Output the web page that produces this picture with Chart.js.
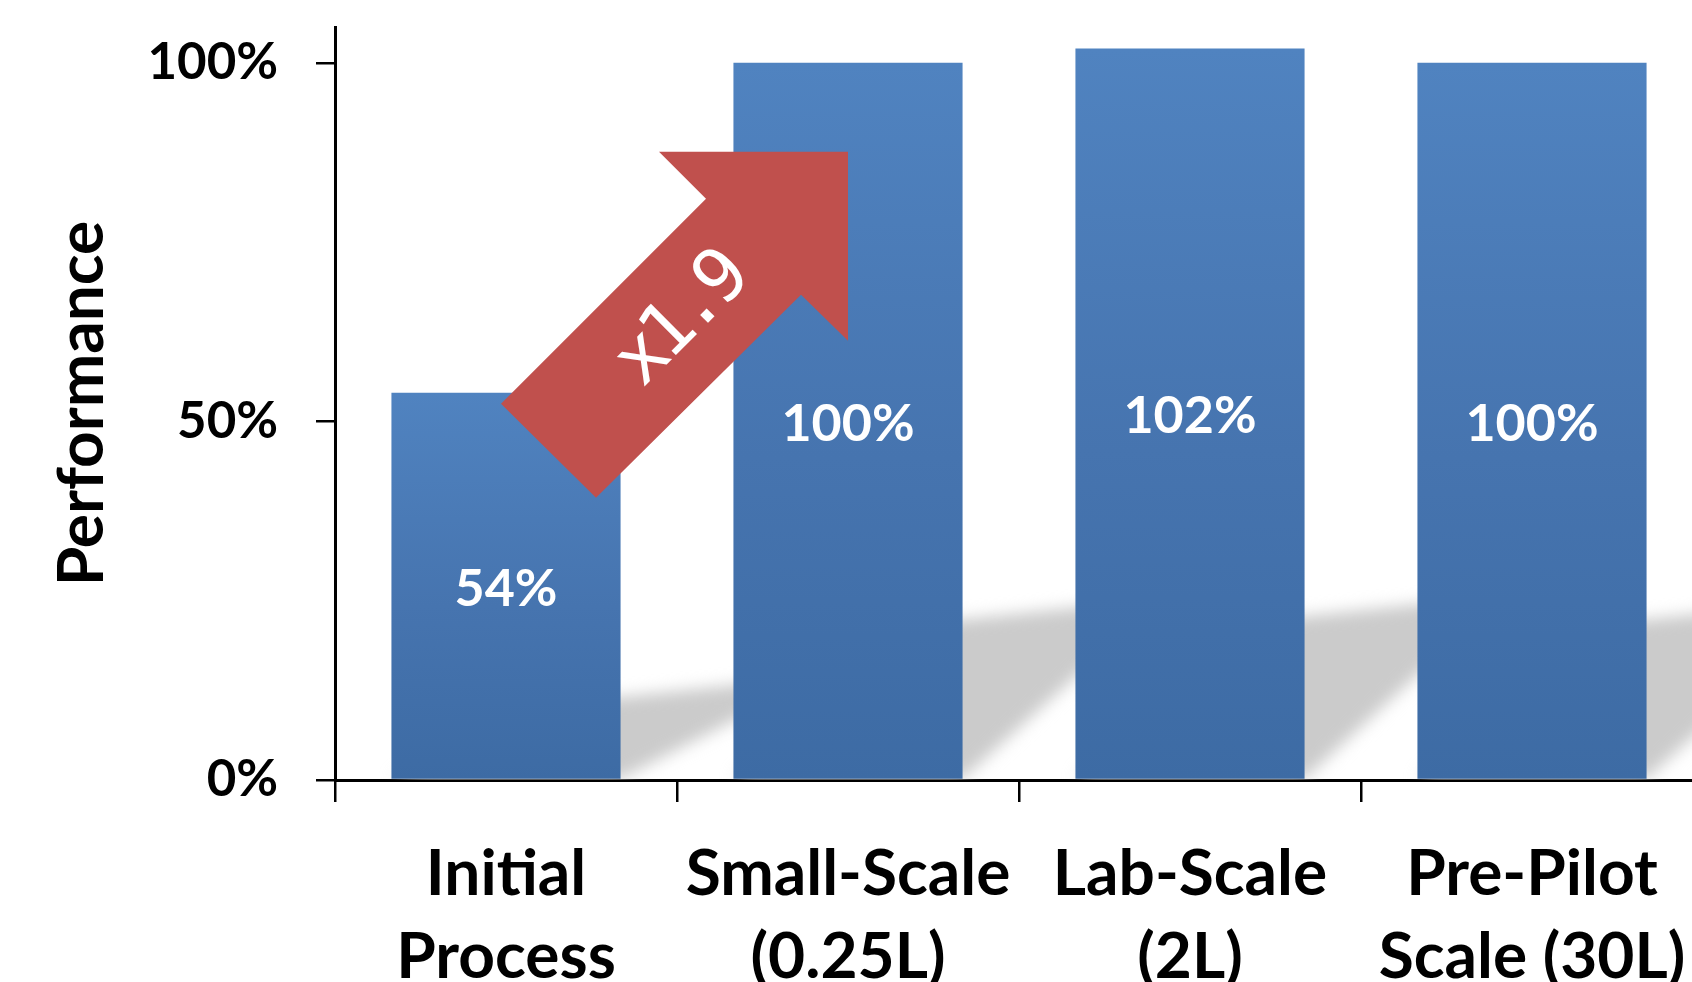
<!DOCTYPE html>
<html>
<head>
<meta charset="utf-8">
<script src="https://cdn.jsdelivr.net/npm/chart.js@4.4.1/dist/chart.umd.min.js"></script>
<style>
  html, body { margin: 0; padding: 0; background: #ffffff; overflow: hidden; width: 1692px; height: 982px; }
  #wrap { position: absolute; left: 0; top: 0; width: 1712px; height: 982px; }
  canvas { display: block; }
</style>
</head>
<body>
<div id="wrap"><canvas id="c" width="1712" height="982"></canvas></div>
<script>
// ---- data ----
const categories = [["Initial", "Process"], ["Small-Scale", "(0.25L)"], ["Lab-Scale", "(2L)"], ["Pre-Pilot", "Scale (30L)"]];
const performance = [54, 100, 102, 100];
const valueLabels = ["54%", "100%", "102%", "100%"];
const yTickValues = [0, 50, 100];
const yAxisMax = 105;
const yAxisTitle = "Performance";
const arrowText = "x1.9";
const arrowTip = { index: 1, value: 87.6 };

const MAIN_FONT = "Lato, 'Open Sans', sans-serif";

// ---- plugins ----
const shadowPlugin = {
  id: 'barShadows',
  beforeDatasetsDraw(chart) {
    const ctx = chart.ctx, area = chart.chartArea;
    const meta = chart.getDatasetMeta(0);
    const catW = chart.scales.x.width / categories.length;
    const s = catW / 342;
    ctx.save();
    ctx.beginPath();
    ctx.rect(area.left, area.top, area.right - area.left + 400, area.bottom - area.top);
    ctx.clip();
    ctx.filter = 'blur(8px)';
    ctx.fillStyle = '#cbcbcb';
    meta.data.forEach(el => {
      const L = el.x - el.width / 2, R = el.x + el.width / 2;
      const base = el.base, h = base - el.y;
      const sh = 0.235 * h;
      const D = 200 * s;
      const tilt = 12 * s;
      ctx.beginPath();
      ctx.moveTo(L, base);
      ctx.lineTo(R, base);
      ctx.lineTo(R + D, base - sh - tilt);
      ctx.lineTo(L + D, base - sh + tilt);
      ctx.closePath();
      ctx.fill();
    });
    ctx.restore();
  }
};

const arrowPlugin = {
  id: 'growthArrow',
  afterDatasetsDraw(chart) {
    const ctx = chart.ctx;
    const xs = chart.scales.x, ys = chart.scales.y;
    const s = (xs.width / categories.length) / 342;
    const tx = xs.getPixelForValue(arrowTip.index);
    const ty = ys.getPixelForValue(arrowTip.value);
    const pts = [[0, 0], [-189, 0], [-142, 47], [-347, 252], [-252, 346], [-47, 143], [0, 189]];
    ctx.save();
    ctx.fillStyle = '#C0504D';
    ctx.beginPath();
    pts.forEach((p, i) => {
      const px = tx + p[0] * s, py = ty + p[1] * s;
      if (i === 0) ctx.moveTo(px, py); else ctx.lineTo(px, py);
    });
    ctx.closePath();
    ctx.fill();
    ctx.translate(tx - 166 * s, ty + 170 * s);
    ctx.rotate(-Math.PI / 4);
    ctx.fillStyle = '#ffffff';
    ctx.font = (74 * s) + "px 'DejaVu Sans Mono', monospace";
    try { ctx.letterSpacing = (-7 * s) + 'px'; } catch (e) {}
    ctx.textAlign = 'center';
    ctx.textBaseline = 'middle';
    ctx.fillText(arrowText, 0, 0);
    ctx.restore();
  }
};

const valueLabelPlugin = {
  id: 'valueLabels',
  afterDatasetsDraw(chart) {
    const ctx = chart.ctx;
    const meta = chart.getDatasetMeta(0);
    ctx.save();
    ctx.fillStyle = '#ffffff';
    ctx.font = "bold 52px " + MAIN_FONT;
    ctx.textAlign = 'center';
    ctx.textBaseline = 'middle';
    meta.data.forEach((el, i) => {
      ctx.fillText(valueLabels[i], el.x, (el.y + el.base) / 2 + 3);
    });
    ctx.restore();
  }
};

// ---- chart ----
const barGradient = (context) => {
  const chart = context.chart;
  const ys = chart.scales && chart.scales.y;
  if (!ys || context.type !== 'data' || !isFinite(ys.getPixelForValue(0))) return '#4779b6';
  const top = ys.getPixelForValue(context.raw);
  const base = ys.getPixelForValue(0);
  const g = chart.ctx.createLinearGradient(0, top, 0, base);
  g.addColorStop(0, '#5083C0');
  g.addColorStop(0.55, '#4674AF');
  g.addColorStop(1, '#3D6BA4');
  return g;
};

new Chart(document.getElementById('c'), {
  type: 'bar',
  data: {
    labels: categories,
    datasets: [{
      data: performance,
      backgroundColor: barGradient,
      borderWidth: 0,
      barPercentage: 0.67,
      categoryPercentage: 1.0
    }]
  },
  options: {
    responsive: false,
    devicePixelRatio: 1,
    animation: false,
    layout: { padding: { top: 27, right: 9, left: 0, bottom: 0 } },
    plugins: { legend: { display: false }, tooltip: { enabled: false } },
    scales: {
      x: {
        z: 1,
        offset: true,
        grid: { display: true, drawOnChartArea: false, drawTicks: true, tickLength: 22, color: '#000000', lineWidth: 2.5, offset: true },
        border: { display: true, color: '#000000', width: 3 },
        ticks: {
          color: '#000000',
          padding: 31,
          font: { family: MAIN_FONT, size: 64, weight: 'bold', lineHeight: 1.3 },
          maxRotation: 0, minRotation: 0, autoSkip: false
        },
        afterFit(scale) {
          scale.height = 202;
          scale.paddingLeft = 0; scale.paddingRight = 0;
        }
      },
      y: {
        z: 1,
        min: 0,
        max: yAxisMax,
        afterBuildTicks(scale) {
          scale.ticks = yTickValues.map(v => ({ value: v }));
        },
        grid: { display: true, drawOnChartArea: false, drawTicks: true, tickLength: 19, color: '#000000', lineWidth: 2.5 },
        border: { display: true, color: '#000000', width: 3 },
        ticks: {
          color: '#000000',
          padding: 38,
          font: { family: MAIN_FONT, size: 51, weight: 'bold', lineHeight: 1.0 },
          callback: (v) => v + '%'
        },
        title: {
          display: true,
          text: yAxisTitle,
          color: '#000000',
          font: { family: MAIN_FONT, size: 64, weight: 'bold', lineHeight: 1.2 },
          padding: { top: 44, bottom: 0 }
        },
        afterFit(scale) {
          scale.width = 335;
          scale.paddingTop = 0; scale.paddingBottom = 0;
        }
      }
    }
  },
  plugins: [shadowPlugin, arrowPlugin, valueLabelPlugin]
});
</script>
</body>
</html>
